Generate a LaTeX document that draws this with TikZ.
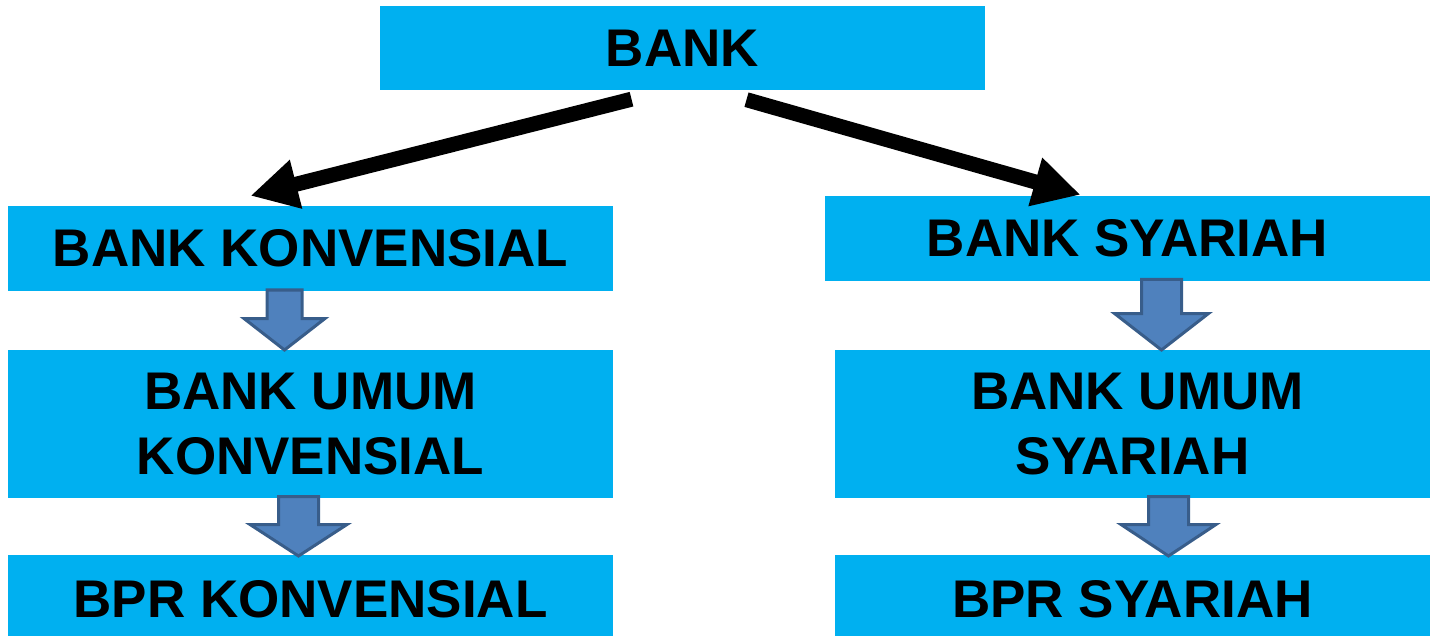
\documentclass[tikz,border=0pt]{standalone}
\usepackage{fontspec}
\setmainfont{Liberation Sans}
\usetikzlibrary{arrows.meta}
\definecolor{boxcyan}{HTML}{00B0F0}
\definecolor{arrfill}{HTML}{4F81BD}
\definecolor{arredge}{HTML}{385D8A}
\newcommand{\dnarrowshape}[7]{% cx, shafthalf, headhalf, top, heady, tip, name
  \draw[blockarrow] (#1-#2,#4) -- (#1+#2,#4) -- (#1+#2,#5) -- (#1+#3,#5) -- (#1,#6) coordinate (#7) -- (#1-#3,#5) -- (#1-#2,#5) -- cycle;}
\begin{document}
\begin{tikzpicture}[x=1pt,y=-1pt,
  box/.style={fill=boxcyan, draw=none, inner sep=0pt, align=center,
    font=\fontsize{53}{65}\selectfont\bfseries, text=black},
  bigarrow/.style={line width=15pt, -{Triangle[length=47pt,width=47pt]}},
  blockarrow/.style={fill=arrfill, draw=arredge, line width=3pt, line join=miter}]
\useasboundingbox (0,0) rectangle (1437,636);
% boxes
\node[box, minimum width=605pt, minimum height=84pt] (bank) at (682.5,48) {BANK};
\node[box, minimum width=605pt, minimum height=85pt] (bk) at (310.5,248.5) {BANK KONVENSIAL};
\node[box, minimum width=605pt, minimum height=85pt] (bs) at (1127.5,238.5) {BANK SYARIAH};
\node[box, minimum width=605pt, minimum height=148pt] (buk) at (310.5,424) {BANK UMUM\\KONVENSIAL};
\node[box, minimum width=595pt, minimum height=148pt] (bus) at (1132.5,424) {\hspace*{10pt}BANK UMUM\\SYARIAH};
\node[box, minimum width=605pt, minimum height=88pt] (bprk) at (310.5,599) {BPR KONVENSIAL};
\node[box, minimum width=595pt, minimum height=88pt] (bprs) at (1132.5,599) {BPR SYARIAH};
% black arrows
\coordinate (s1) at ([xshift=-51pt,yshift=-9pt]bank.south);
\coordinate (t1) at ([xshift=-60pt,yshift=10pt]bk.north);
\coordinate (s2) at ([xshift=64pt,yshift=-9.5pt]bank.south);
\coordinate (t2) at ([xshift=-47pt,yshift=1pt]bs.north);
\draw[bigarrow] (s1) -- (t1);
\draw[bigarrow] (s2) -- (t2);
% block arrows
\dnarrowshape{284.5}{17.5}{40.5}{290}{318.5}{350}{a1}
\dnarrowshape{298.5}{20}{48.5}{496.5}{524.5}{556}{a2}
\dnarrowshape{1161.5}{20}{47}{279.5}{313.5}{350}{a3}
\dnarrowshape{1168.5}{20}{47.5}{496.5}{524.5}{556}{a4}
\end{tikzpicture}
\end{document}
